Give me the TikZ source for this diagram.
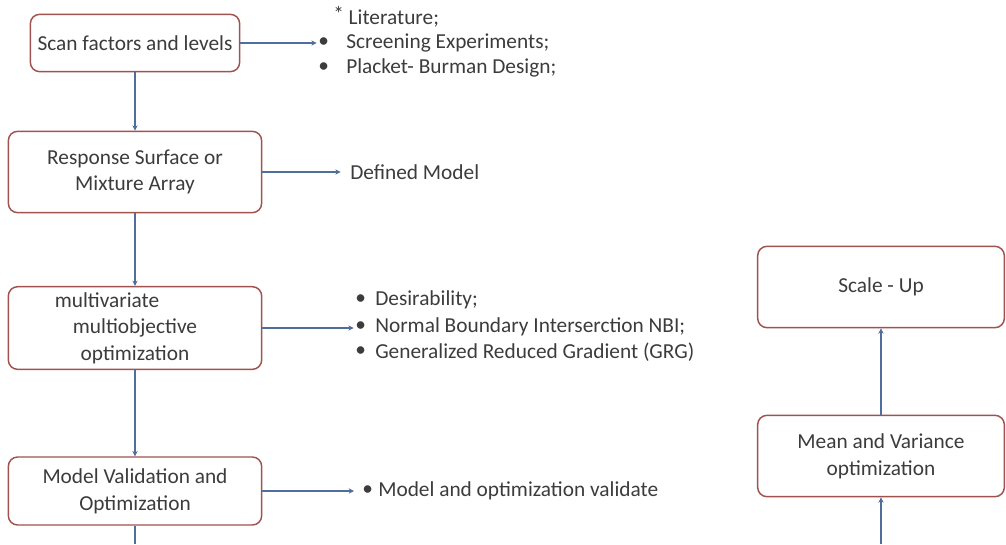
\documentclass[tikz,border=0pt]{standalone}
\usepackage{fontspec}
\setmainfont{Carlito}
\usetikzlibrary{arrows.meta, positioning}
\definecolor{cframe}{HTML}{A0524F}
\definecolor{cline}{HTML}{4F6E9C}
\definecolor{ctext}{HTML}{3C3C3C}
\tikzset{
  every picture/.style={font=\fontsize{16}{20}\selectfont, text=ctext},
  box/.style={draw=cframe, fill=white, rounded corners=7pt, align=center, line width=1.1pt, inner sep=4pt},
  arrow/.style={-{Stealth[length=4pt, width=4pt]}, draw=cline, line width=0.8pt},
  item/.style={anchor=west, inner sep=0pt},
  dot/.style={anchor=west, inner sep=0pt},
}

\begin{document}
\begin{tikzpicture}[x=0.75pt, y=-0.75pt]
  \useasboundingbox (0,0) rectangle (1006,544);
  % left column
  \node[box, minimum width=157pt, minimum height=43pt] (scan) at (135,43) {Scan factors and levels};
  \node[box, minimum width=190pt, minimum height=61pt] (rsm) at (135,172) {Response Surface or\\Mixture Array};
  \node[box, minimum width=190pt, minimum height=62pt] (opt) at (135,328) {multivariate\hspace*{42pt}\\multiobjective\\optimization};
  \node[box, minimum width=190pt, minimum height=51pt] (valid) at (135,491) {Model Validation and\\Optimization};
  % right column
  \node[box, minimum width=185pt, minimum height=61pt] (scale) at (881,287) {Scale - Up};
  \node[box, minimum width=185pt, minimum height=61pt] (meanvar) at (881,456) {Mean and Variance\\optimization};
  \coordinate (downL) at (135,544);
  \coordinate (downR) at (881,544);
  % notes
  \node[item] (lit) at (333,17) {\raisebox{2pt}{*} Literature;};
  \node[dot] (d1) at (318,43) {•};
  \node[item] (scr) at (346,43) {Screening Experiments;};
  \node[dot] (d2) at (318,68) {•};
  \node[item] (pb) at (346,68) {Placket- Burman Design;};
  \node[item] (def) at (350,172) {Defined Model};
  \node[dot] (d3) at (355,300) {•};
  \node[item] (des) at (375,300) {Desirability;};
  \node[dot] (d4) at (355,327) {•};
  \node[item] (nbi) at (375,327) {Normal Boundary Interserction NBI;};
  \node[dot] (d5) at (355,352) {•};
  \node[item] (grg) at (375,352) {Generalized Reduced Gradient (GRG)};
  \node[dot] (d6) at (362,491) {•};
  \node[item] (mov) at (378,491) {Model and optimization validate};
  % connectors
  \draw[arrow] (scan) -- (rsm);
  \draw[arrow] (rsm) -- (opt);
  \draw[arrow] (opt) -- (valid);
  \draw[draw=cline, line width=0.8pt] (valid) -- (downL);
  \draw[arrow] (downR) -- (meanvar);
  \draw[arrow] (meanvar) -- (scale);
  \draw[arrow] (scan.east) -- ([xshift=-1pt]d1.west |- scan.east);
  \draw[arrow] (rsm.east) -- ([xshift=-7pt]def.west |- rsm.east);
  \draw[arrow] (opt.east) -- ([xshift=-1pt]d4.west |- opt.east);
  \draw[arrow] (valid.east) -- ([xshift=-6pt]d6.west |- valid.east);
\end{tikzpicture}
\end{document}
